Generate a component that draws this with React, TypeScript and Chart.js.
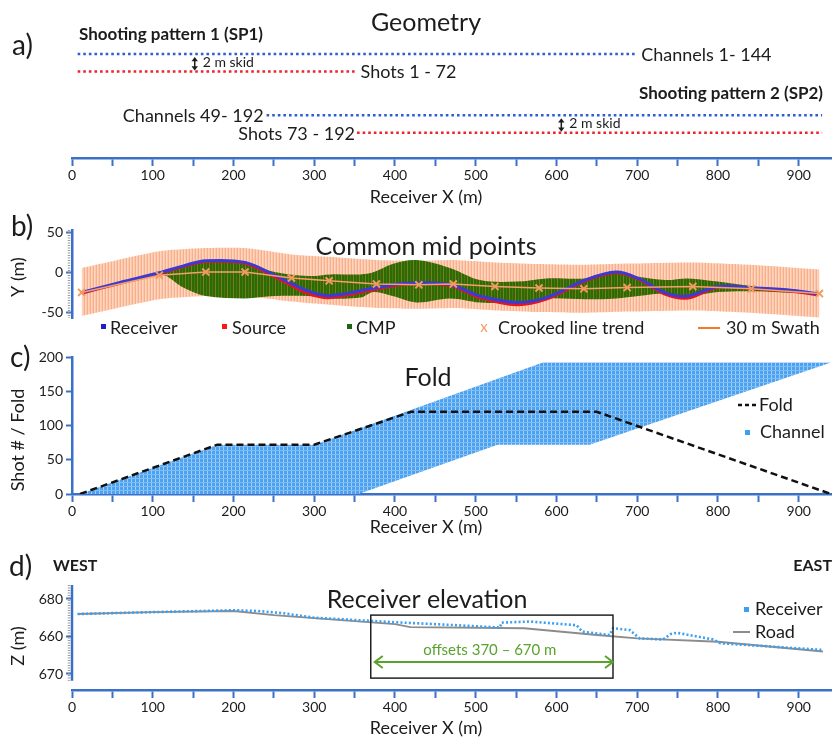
import React, { useEffect, useRef } from 'react';
import { Chart, registerables } from 'chart.js';

Chart.register(...registerables);

const FONT = 'Lato, "Open Sans", sans-serif';
const INK = '#1c1c1c';
const AXIS_BLUE = '#3b70c8';
const W = 832;
const X_MIN = 0;
const X_MAX = 940;

// ---------- a) acquisition geometry (receiver X extents, m) ----------
const sp1ReceiverX = [7, 700];
const sp1ShotX = [7, 350];
const sp2ReceiverX = [241, 929];
const sp2ShotX = [353, 929];
// cross-line offsets of the four lanes (m); shots sit on a 2 m skid
const laneY = { sp1Receivers: 0, sp1Shots: -2, sp2Receivers: -7, sp2Shots: -9 };
const skidArrowX = [152, 606];

// ---------- b) common mid points ----------
const receiverX = [12, 60, 109, 140, 167, 216, 253, 295, 323, 377, 419, 472, 509, 555, 592, 641, 679, 707, 741, 769, 806, 852, 900, 930];
const receiverY = [-25.5, -13, -1, 8, 14, 12, -4, -24, -29.5, -20, -14, -16, -30, -38, -32, -10, 0, -8, -26, -30, -18, -20, -23, -27];
const sourceY = [-26.5, -14, -2, 7, 13, 11, -6, -27, -32, -22, -15, -17, -32, -41, -34, -11, -1, -9, -28, -32.5, -19, -21, -24.5, -28.5];
const trendX = [12, 109, 167, 216, 274, 321, 380, 433, 476, 528, 583, 639, 693, 775, 848, 933];
const trendY = [-25.5, -4, 0, 0, -7.5, -11, -15, -16, -15, -18, -20, -21, -19.5, -18, -21, -27];
const swathTop = [5, 26, 30, 30, 22, 19, 15, 14, 15, 12, 10, 9, 10.5, 12, 9, 3];
const swathBottom = [-55, -34, -30, -30, -37, -41, -45, -46, -45, -48, -50, -51, -49.5, -48, -51, -57];
const cmpX = [12, 109, 140, 167, 216, 253, 295, 323, 360, 377, 400, 430, 472, 509, 555, 592, 641, 679, 707, 741, 769, 806, 852, 900, 930];
const cmpTop = [-25.5, -1, 8, 14, 12, 0, -5, -3, -3, 0, 10, 15, 5, -10, -12, -8, -8, 0, -6, -10, -8, -12, -18, -22, -27];
const cmpBottom = [-25.5, -3, -20, -30, -33, -30, -30, -33, -32, -25, -30, -38, -33, -38, -38, -33, -34, -33, -30, -27, -30, -25, -24, -26, -27];

// ---------- c) fold ----------
const foldX = [10, 180, 300, 420, 650, 940];
const foldValue = [0, 72, 72, 120, 120, 0];
const channelUpperX = [10, 180, 300, 583, 940];
const channelUpperShot = [0, 72, 72, 192, 192];
const channelLowerX = [10, 355, 527, 641, 940];
const channelLowerShot = [0, 0, 72, 72, 192];

// ---------- d) receiver elevation ----------
const roadX = [7, 100, 200, 250, 300, 400, 419, 560, 650, 700, 800, 930];
const roadZ = [676.0, 676.5, 676.8, 675.7, 674.9, 673.3, 672.5, 672.2, 670.4, 669.5, 668.6, 666.0];
const elevX = [7, 100, 200, 230, 262, 300, 400, 458, 530, 532, 567, 625, 632, 666, 670, 691, 703, 732, 741, 749, 794, 803, 930];
const elevZ = [676, 676.5, 677, 676.8, 676.2, 675, 673.8, 673.2, 672.4, 673.7, 674, 673, 671.3, 670.4, 672.2, 671.7, 669.5, 669.2, 670.6, 671, 669.2, 668.2, 666.4];
const zTickValues = [660, 670, 680];
const zTickLabels = ['670', '660', '680'];
const offsetWindow = [370, 670];
const offsetBoxZ = [658.9, 675.7];
const offsetArrowZ = 663.2;

// ---------- helpers ----------
const pts = (xs: number[], ys: number[]) => xs.map((x, i) => ({ x, y: ys[i] }));
const lane = (xs: number[], y: number) => xs.map((x) => ({ x, y }));

type TOpts = { bold?: boolean; align?: CanvasTextAlign; color?: string; rotate?: boolean };
function text(ctx: CanvasRenderingContext2D, s: string, x: number, y: number, size: number, o: TOpts = {}) {
  ctx.save();
  ctx.font = `${o.bold ? 'bold ' : ''}${size}px ${FONT}`;
  ctx.fillStyle = o.color ?? INK;
  ctx.textAlign = o.align ?? 'left';
  ctx.textBaseline = 'middle';
  if (o.rotate) {
    ctx.translate(x, y);
    ctx.rotate(-Math.PI / 2);
    ctx.fillText(s, 0, 0);
  } else {
    ctx.fillText(s, x, y);
  }
  ctx.restore();
}

function vArrow(ctx: CanvasRenderingContext2D, x: number, y1: number, y2: number) {
  const h = 3.2;
  ctx.save();
  ctx.strokeStyle = INK;
  ctx.fillStyle = INK;
  ctx.lineWidth = 1.5;
  ctx.beginPath();
  ctx.moveTo(x, y1 + 2);
  ctx.lineTo(x, y2 - 2);
  ctx.stroke();
  ctx.beginPath();
  ctx.moveTo(x, y1);
  ctx.lineTo(x - h, y1 + h + 1);
  ctx.lineTo(x + h, y1 + h + 1);
  ctx.closePath();
  ctx.fill();
  ctx.beginPath();
  ctx.moveTo(x, y2);
  ctx.lineTo(x - h, y2 - h - 1);
  ctx.lineTo(x + h, y2 - h - 1);
  ctx.closePath();
  ctx.fill();
  ctx.restore();
}

function hArrow(ctx: CanvasRenderingContext2D, x1: number, x2: number, y: number, color: string) {
  const h = 6;
  ctx.save();
  ctx.strokeStyle = color;
  ctx.lineWidth = 2;
  ctx.beginPath();
  ctx.moveTo(x1, y);
  ctx.lineTo(x2, y);
  ctx.moveTo(x1 + h + 2, y - h);
  ctx.lineTo(x1, y);
  ctx.lineTo(x1 + h + 2, y + h);
  ctx.moveTo(x2 - h - 2, y - h);
  ctx.lineTo(x2, y);
  ctx.lineTo(x2 - h - 2, y + h);
  ctx.stroke();
  ctx.restore();
}

function stripePattern(ctx: CanvasRenderingContext2D, cols: string[], rowColor?: string, rows = 1) {
  const tile = document.createElement('canvas');
  tile.width = cols.length;
  tile.height = rows;
  const t = tile.getContext('2d')!;
  cols.forEach((c, i) => {
    t.fillStyle = c;
    t.fillRect(i, 0, 1, rows);
  });
  if (rowColor) {
    t.fillStyle = rowColor;
    t.fillRect(0, rows - 1, cols.length, 1);
  }
  return ctx.createPattern(tile, 'repeat')!;
}

function xScale(display: boolean, height: number) {
  return {
    type: 'linear',
    position: 'bottom',
    min: X_MIN,
    max: X_MAX,
    display,
    border: { display: true, color: AXIS_BLUE, width: 2.5 },
    grid: { drawOnChartArea: false, drawTicks: true, tickLength: 8, tickWidth: 2, color: AXIS_BLUE },
    ticks: {
      stepSize: 50,
      includeBounds: false,
      autoSkip: false,
      maxRotation: 0,
      padding: 1,
      color: INK,
      font: { family: FONT, size: 14 },
      callback: (v: number) => (v % 100 === 0 ? String(v) : ''),
    },
    afterFit: (s: any) => {
      s.height = height;
    },
  };
}

function yScale(min: number, max: number, step: number, extra: any = {}) {
  return {
    type: 'linear',
    position: 'left',
    min,
    max,
    border: { display: true, color: AXIS_BLUE, width: 2.5 },
    grid: { drawOnChartArea: false, drawTicks: true, tickLength: 6, tickWidth: 2, color: AXIS_BLUE },
    ticks: { stepSize: step, includeBounds: false, padding: 3, color: INK, font: { family: FONT, size: 14 } },
    afterFit: (s: any) => {
      s.width = 72;
    },
    ...extra,
  };
}

function baseOptions(padding: any, scales: any) {
  return {
    animation: false,
    responsive: false,
    maintainAspectRatio: false,
    events: [],
    layout: { padding },
    elements: { point: { radius: 0 }, line: { tension: 0 } },
    plugins: { legend: { display: false }, tooltip: { enabled: false }, title: { display: false } },
    scales,
  };
}

function minorTickStrip(ctx: CanvasRenderingContext2D, x: number, y1: number, y2: number) {
  ctx.save();
  ctx.strokeStyle = '#9a9a9a';
  ctx.lineWidth = 2.5;
  ctx.setLineDash([1, 1.5]);
  ctx.beginPath();
  ctx.moveTo(x, y1);
  ctx.lineTo(x, y2);
  ctx.stroke();
  ctx.restore();
}

// ---------- panels ----------
function buildGeometry(canvas: HTMLCanvasElement) {
  const blue = '#2f5fce';
  const red = '#f0222a';
  const dotted = (data: any[], color: string) => ({
    data,
    borderColor: color,
    borderWidth: 2.6,
    borderDash: [2.6, 3],
    borderCapStyle: 'butt',
    pointRadius: 0,
    fill: false,
  });
  return new Chart(canvas, {
    type: 'line',
    data: {
      datasets: [
        dotted(lane(sp1ReceiverX, laneY.sp1Receivers), blue),
        dotted(lane(sp1ShotX, laneY.sp1Shots), red),
        dotted(lane(sp2ReceiverX, laneY.sp2Receivers), blue),
        dotted(lane(sp2ShotX, laneY.sp2Shots), red),
      ],
    },
    options: baseOptions({ left: 72, right: 1, top: 40, bottom: 0 }, {
      x: xScale(true, 52),
      y: { type: 'linear', display: false, min: -11.89, max: 1.6 },
    }) as any,
    plugins: [
      {
        id: 'geometryText',
        afterDraw(chart: any) {
          const { ctx } = chart;
          const xs = chart.scales.x;
          const ys = chart.scales.y;
          const px = (v: number) => xs.getPixelForValue(v);
          const py = (v: number) => ys.getPixelForValue(v);
          text(ctx, 'a)', 12, 46, 28);
          text(ctx, 'Geometry', 426, 23, 25, { align: 'center' });
          text(ctx, 'Shooting pattern 1 (SP1)', 79, 35, 17, { bold: true });
          text(ctx, 'Shooting pattern 2 (SP2)', 823, 94, 17, { bold: true, align: 'right' });
          text(ctx, 'Channels 1- 144', px(sp1ReceiverX[1]) + 4, py(laneY.sp1Receivers) + 1, 18);
          text(ctx, 'Shots 1 - 72', px(sp1ShotX[1]) + 6, py(laneY.sp1Shots) + 1, 18);
          text(ctx, 'Channels 49- 192', px(sp2ReceiverX[0]) - 3, py(laneY.sp2Receivers) + 1, 18, { align: 'right' });
          text(ctx, 'Shots 73 - 192', px(sp2ShotX[0]) - 2, py(laneY.sp2Shots) + 1, 18, { align: 'right' });
          vArrow(ctx, px(skidArrowX[0]), py(laneY.sp1Receivers) + 3, py(laneY.sp1Shots) - 1);
          text(ctx, '2 m skid', px(skidArrowX[0]) + 8, py(-1), 14);
          vArrow(ctx, px(skidArrowX[1]), py(laneY.sp2Receivers) + 3, py(laneY.sp2Shots) - 1);
          text(ctx, '2 m skid', px(skidArrowX[1]) + 8, py(-8), 14);
          text(ctx, 'Receiver X (m)', 426, 197, 18, { align: 'center' });
        },
      },
    ],
  } as any);
}

function buildCmp(canvas: HTMLCanvasElement) {
  const ctx = canvas.getContext('2d')!;
  const swathFill = stripePattern(ctx, ['#f8b08a', '#fdd5c0', '#fcc7aa']);
  const cmpFill = stripePattern(ctx, ['#2c6a02', '#2c6a02', '#4b7511', '#2c6a02', '#2c6a02', '#7d7a28']);
  const smooth = 0.35;
  return new Chart(canvas, {
    type: 'line',
    data: {
      datasets: [
        {
          data: pts(trendX, trendY),
          borderColor: '#f3a06c',
          borderWidth: 1.5,
          pointStyle: 'crossRot',
          pointRadius: 5,
          pointBorderColor: '#f39a62',
          pointBorderWidth: 2,
          fill: false,
          order: 1,
        },
        { data: pts(receiverX, receiverY), borderColor: '#3b3bd2', borderWidth: 3, tension: smooth, fill: false, order: 2 },
        { data: pts(receiverX, sourceY), borderColor: '#e8141c', borderWidth: 3, tension: smooth, fill: false, order: 3 },
        { data: pts(cmpX, cmpTop), borderWidth: 0, borderColor: 'rgba(0,0,0,0)', backgroundColor: cmpFill, tension: smooth, fill: '+1', order: 5 },
        { data: pts(cmpX, cmpBottom), borderWidth: 0, borderColor: 'rgba(0,0,0,0)', tension: smooth, fill: false, order: 4 },
        { data: pts(trendX, swathTop), borderWidth: 0, borderColor: 'rgba(0,0,0,0)', backgroundColor: swathFill, tension: 0.2, fill: '+1', order: 7, clip: false },
        { data: pts(trendX, swathBottom), borderWidth: 0, borderColor: 'rgba(0,0,0,0)', tension: 0.2, fill: false, order: 6, clip: false },
      ],
    },
    options: baseOptions({ left: 0, right: 1, top: 20, bottom: 17 }, {
      x: xScale(false, 0),
      y: yScale(-57.5, 52.5, 50),
    }) as any,
    plugins: [
      {
        id: 'cmpText',
        afterDraw(chart: any) {
          const { ctx: c, chartArea } = chart;
          minorTickStrip(c, chartArea.left - 3, chartArea.top, chartArea.bottom);
          text(c, 'b)', 11, 17, 28);
          text(c, 'Y (m)', 18, 67, 18, { rotate: true, align: 'center' });
          text(c, 'Common mid points', 426, 37, 25, { align: 'center' });
          const ly = 118;
          const sq = (x: number, color: string) => {
            c.fillStyle = color;
            c.fillRect(x, ly - 4, 5, 5);
          };
          sq(101, '#1f1fc8');
          text(c, 'Receiver', 110, ly, 18);
          sq(222, '#ff1515');
          text(c, 'Source', 232, ly, 18);
          sq(347, '#1f6414');
          text(c, 'CMP', 356, ly, 18);
          text(c, 'x', 484, ly - 1, 15, { align: 'center', color: '#f39a62' });
          text(c, 'Crooked line trend', 498, ly, 18);
          c.save();
          c.strokeStyle = '#f07a2a';
          c.lineWidth = 2;
          c.beginPath();
          c.moveTo(698, ly);
          c.lineTo(720, ly);
          c.stroke();
          c.restore();
          text(c, '30 m Swath', 726, ly, 18);
        },
      },
    ],
  } as any);
}

function buildFold(canvas: HTMLCanvasElement) {
  const ctx = canvas.getContext('2d')!;
  const channelFill = stripePattern(ctx, ['#4aa2f1', '#4aa2f1', '#4aa2f1', '#9fcdf7'], '#80bcf5', 4);
  return new Chart(canvas, {
    type: 'line',
    data: {
      datasets: [
        {
          data: pts(foldX, foldValue),
          borderColor: '#111',
          borderWidth: 2.5,
          borderDash: [7, 4],
          fill: false,
          order: 1,
        },
        {
          data: pts(channelUpperX, channelUpperShot),
          borderWidth: 0,
          borderColor: 'rgba(0,0,0,0)',
          backgroundColor: channelFill,
          fill: '+1',
          order: 3,
        },
        { data: pts(channelLowerX, channelLowerShot), borderWidth: 0, borderColor: 'rgba(0,0,0,0)', fill: false, order: 2 },
      ],
    },
    options: baseOptions({ left: 0, right: 1, top: 22, bottom: 0 }, {
      x: xScale(true, 46),
      y: yScale(0, 200, 50),
    }) as any,
    plugins: [
      {
        id: 'foldText',
        afterDraw(chart: any) {
          const { ctx: c } = chart;
          text(c, 'c)', 10, 23, 28);
          text(c, 'Shot # / Fold', 18, 105, 18, { rotate: true, align: 'center' });
          text(c, 'Fold', 428, 43, 25, { align: 'center' });
          c.save();
          c.strokeStyle = '#111';
          c.lineWidth = 2.5;
          c.setLineDash([4, 3]);
          c.beginPath();
          c.moveTo(738, 70);
          c.lineTo(758, 70);
          c.stroke();
          c.restore();
          text(c, 'Fold', 759, 70, 18);
          c.fillStyle = '#3d9ef2';
          c.fillRect(745, 95, 5, 5);
          text(c, 'Channel', 760, 97, 18);
          text(c, 'Receiver X (m)', 426, 192, 18, { align: 'center' });
        },
      },
    ],
  } as any);
}

function buildElevation(canvas: HTMLCanvasElement) {
  return new Chart(canvas, {
    type: 'line',
    data: {
      datasets: [
        {
          data: pts(elevX, elevZ),
          borderColor: '#3b9ff2',
          borderWidth: 2.6,
          borderDash: [2, 2.2],
          borderCapStyle: 'butt',
          fill: false,
          order: 1,
        },
        { data: pts(roadX, roadZ), borderColor: '#8c8c8c', borderWidth: 1.8, fill: false, order: 2 },
      ],
    },
    options: baseOptions({ left: 0, right: 1, top: 45, bottom: 0 }, {
      x: xScale(true, 47),
      y: yScale(655.73, 683.73, 10, {
        border: { display: false },
        afterBuildTicks: (s: any) => {
          s.ticks = zTickValues.map((value) => ({ value }));
        },
        ticks: {
          padding: 3,
          color: INK,
          font: { family: FONT, size: 14 },
          callback: (v: number) => zTickLabels[zTickValues.indexOf(v)],
        },
      }),
    }) as any,
    plugins: [
      {
        id: 'elevText',
        afterDraw(chart: any) {
          const { ctx: c, chartArea } = chart;
          const xs = chart.scales.x;
          const ys = chart.scales.y;
          const px = (v: number) => xs.getPixelForValue(v);
          const py = (v: number) => ys.getPixelForValue(v);
          // shortened vertical axis line
          const yTop = chartArea.top;
          const yBot = py(658.2);
          minorTickStrip(c, chartArea.left - 3, yTop, yBot);
          c.save();
          c.strokeStyle = AXIS_BLUE;
          c.lineWidth = 2.5;
          c.beginPath();
          c.moveTo(chartArea.left, yTop);
          c.lineTo(chartArea.left, yBot);
          c.stroke();
          c.restore();

          text(c, 'd)', 9, 27, 28);
          text(c, 'WEST', 53, 26, 16, { bold: true });
          text(c, 'EAST', 832, 26, 16, { bold: true, align: 'right' });
          text(c, 'Z (m)', 18, 106, 18, { rotate: true, align: 'center' });
          text(c, 'Receiver elevation', 427, 60, 25, { align: 'center' });

          // offset window box
          const bx1 = px(offsetWindow[0]);
          const bx2 = px(offsetWindow[1]);
          const by1 = py(offsetBoxZ[1]);
          const by2 = py(offsetBoxZ[0]);
          c.save();
          c.strokeStyle = '#222';
          c.lineWidth = 1.5;
          c.strokeRect(bx1, by1, bx2 - bx1, by2 - by1);
          c.restore();
          hArrow(c, bx1 + 4, bx2, py(offsetArrowZ), '#5aa22e');
          text(c, 'offsets 370 \u2013 670 m', (bx1 + bx2) / 2 - 2, py(666.4), 15, { align: 'center', color: '#5aa22e' });

          // legend
          c.fillStyle = '#3b9ff2';
          c.fillRect(744, 67, 5, 5);
          text(c, 'Receiver', 755, 69, 18);
          c.save();
          c.strokeStyle = '#8c8c8c';
          c.lineWidth = 2;
          c.beginPath();
          c.moveTo(733, 92);
          c.lineTo(750, 92);
          c.stroke();
          c.restore();
          text(c, 'Road', 755, 92, 18);
          text(c, 'Receiver X (m)', 426, 188, 18, { align: 'center' });
        },
      },
    ],
  } as any);
}

function Panel({ top, height, build }: { top: number; height: number; build: (c: HTMLCanvasElement) => Chart }) {
  const ref = useRef<HTMLCanvasElement>(null);
  useEffect(() => {
    const chart = build(ref.current!);
    return () => chart.destroy();
  }, [build]);
  return (
    <canvas
      ref={ref}
      width={W}
      height={height}
      style={{ position: 'absolute', left: 0, top, width: W, height, display: 'block' }}
    />
  );
}

export default function App() {
  return (
    <div style={{ position: 'absolute', left: 0, top: 0, width: W, height: 737, background: '#fff', overflow: 'hidden' }}>
      <Panel top={0} height={210} build={buildGeometry} />
      <Panel top={210} height={125} build={buildCmp} />
      <Panel top={335} height={205} build={buildFold} />
      <Panel top={540} height={197} build={buildElevation} />
    </div>
  );
}
